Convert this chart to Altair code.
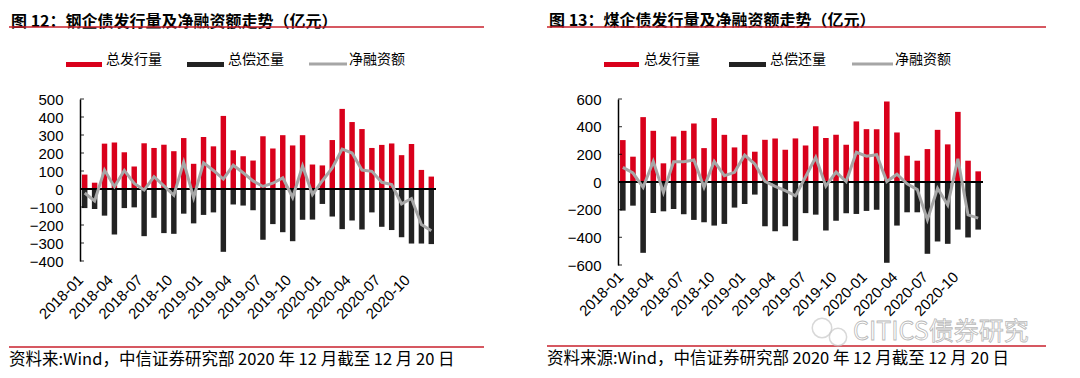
import altair as alt
import pandas as pd

months = [f"{y}-{m:02d}" for y in (2018, 2019, 2020) for m in range(1, 13)]
series_names = ["总发行量", "总偿还量", "净融资额"]

steel_issue = [80, 35, 252, 259, 204, 125, 254, 228, 246, 210, 283, 140,
               289, 237, 406, 215, 182, 158, 293, 225, 299, 242, 299, 136,
               131, 272, 445, 372, 333, 228, 245, 253, 188, 250, 106, 69]
steel_repay = [-106, -111, -148, -253, -106, -102, -262, -160, -245, -249, -137, -191,
               -144, -130, -349, -86, -92, -118, -282, -195, -240, -290, -171, -170,
               -83, -153, -223, -175, -225, -130, -210, -228, -268, -303, -303, -306]
steel_net = [-22, -66, 105, 13, 103, 31, -6, 68, 17, -35, 149, -48,
             145, 103, 55, 132, 90, 45, 14, 32, 62, -47, 128, -31,
             46, 117, 222, 200, 105, 98, 37, 25, -83, -53, -197, -232]

coal_issue = [303, 183, 469, 370, 135, 329, 370, 423, 245, 462, 341, 250,
              341, 219, 305, 315, 233, 315, 264, 403, 318, 341, 269, 438,
              382, 382, 582, 358, 190, 154, 238, 377, 272, 507, 154, 77]
coal_repay = [-207, -171, -512, -224, -212, -195, -233, -274, -291, -315, -303, -185,
              -159, -91, -320, -356, -320, -425, -225, -236, -351, -281, -226, -231,
              -209, -200, -584, -315, -219, -219, -519, -430, -447, -344, -401, -344]
coal_net = [106, 65, -38, 149, -75, 147, 147, 159, -38, 149, 46, 70,
            195, 130, 5, -31, -63, -100, 38, 179, -30, 72, 3, 215,
            186, 197, 3, 56, -13, -55, -272, -45, -166, 168, -238, -261]

RED = "#d9001b"
BLACK = "#222222"
GRAY = "#a6a6a6"
LINE_RED = "#c8202c"
CJK = "Noto Sans CJK SC"
NUM = "Liberation Sans"

one = pd.DataFrame({"k": [0]})


def deco_text(txt, x, y, size, weight="normal", color="black", font=CJK):
    return alt.Chart(one).mark_text(
        text=txt, align="left", baseline="middle", font=font,
        fontSize=size, fontWeight=weight, color=color
    ).encode(x=alt.value(x), y=alt.value(y))


def deco_rule(x1, x2, y, color, width):
    return alt.Chart(one).mark_rule(color=color, strokeWidth=width).encode(
        x=alt.value(x1), x2=alt.value(x2), y=alt.value(y))


def deco_rect(x1, x2, y1, y2, color):
    return alt.Chart(one).mark_rect(color=color).encode(
        x=alt.value(x1), x2=alt.value(x2), y=alt.value(y1), y2=alt.value(y2))


def panel(issue, repay, net, title, source, ydomain, yticks, W, H, lay):
    df = pd.DataFrame({"month": months, "issue": issue, "repay": repay, "net": net})
    xenc = alt.X(
        "month:O", sort=months,
        scale=alt.Scale(paddingInner=0.45, paddingOuter=0.2),
        axis=alt.Axis(values=months[::3], title=None, labelAngle=-45,
                      labelAlign="right", labelBaseline="middle",
                      domain=False, ticks=False, tickSize=0,
                      labelPadding=lay["xpad"], labelOffset=lay["xoff"],
                      labelFont=NUM, labelFontSize=15, labelColor="black",
                      labelOverlap=False, labelFlush=False))
    yscale = alt.Scale(domain=ydomain, nice=False, zero=False)
    yaxis = alt.Axis(values=yticks, title=None, grid=False, domainColor="black",
                     domainWidth=1.5, ticks=False, tickSize=0, labelPadding=lay["ypad"],
                     labelFont=NUM, labelFontSize=15, labelColor="black",
                     labelOverlap=False, labelFlush=False)
    base = alt.Chart(df)
    b1 = base.mark_bar(color=RED).encode(
        x=xenc, y=alt.Y("issue:Q", scale=yscale, axis=yaxis))
    b2 = base.mark_bar(color=BLACK).encode(
        x=xenc, y=alt.Y("repay:Q", scale=yscale, axis=yaxis))
    zero = alt.Chart(one).mark_rule(color="black", strokeWidth=2).encode(
        y=alt.YDatum(0, scale=yscale, axis=yaxis))
    ln = base.mark_line(color=GRAY, strokeWidth=3).encode(
        x=xenc, y=alt.Y("net:Q", scale=yscale, axis=yaxis))
    tk = alt.Chart(pd.DataFrame({"v": yticks})).mark_tick(
        color="black", thickness=1.2, size=4).encode(
        y=alt.Y("v:Q", scale=yscale, axis=yaxis), x=alt.value(2))

    layers = [b1, b2, zero, ln, tk]
    layers.append(deco_text(title, -69, lay["title_y"], 16, "bold"))
    layers.append(deco_rule(-71, lay["rule_x2"], -72, LINE_RED, 1.5))
    # legend
    layers.append(deco_rect(-14, lay["sw1"], -37, -32, RED))
    layers.append(deco_text(series_names[0], 26, -39, 14))
    layers.append(deco_rect(lay["sw2"][0], lay["sw2"][1], -37, -32, BLACK))
    layers.append(deco_text(series_names[1], lay["sw2"][1] + 4, -39, 14))
    layers.append(deco_rule(lay["sw3"][0], lay["sw3"][1], -35, GRAY, 3))
    layers.append(deco_text(series_names[2], lay["sw3"][1] + 2, -39, 14))
    # bottom
    layers.append(deco_rule(-71, lay["rule_x2"], lay["bottom_y"], LINE_RED, 1.5))
    layers.append(deco_text(source, -71, lay["bottom_y"] + 13, 16.5))
    if lay.get("wm"):
        layers.append(alt.Chart(one).mark_point(
            shape="circle", filled=False, stroke="#c8c8c8", strokeWidth=1.5, size=380
        ).encode(x=alt.value(204), y=alt.value(229)))
        layers.append(alt.Chart(one).mark_point(
            shape="circle", filled=False, stroke="#c8c8c8", strokeWidth=1.5, size=300
        ).encode(x=alt.value(220), y=alt.value(238)))
        layers.append(alt.Chart(one).mark_text(
            text="CITICS债券研究", align="left", baseline="middle", font=CJK,
            fontSize=25, fill="#ffffff", stroke="#b8b8b8", strokeWidth=0.8
        ).encode(x=alt.value(235), y=alt.value(233)))
    return alt.layer(*layers).properties(width=W, height=H)


left = panel(steel_issue, steel_repay, steel_net,
             "图 12：钢企债发行量及净融资额走势（亿元）",
             "资料来:Wind，中信证券研究部  2020 年 12 月截至 12 月 20 日",
             [-400, 500], list(range(-400, 501, 100)), 356, 162,
             {"title_y": -77, "rule_x2": 404, "sw1": 22, "sw2": (107, 144),
              "sw3": (229, 267), "bottom_y": 248, "xpad": 16, "xoff": -4,
              "ypad": 17})
right = panel(coal_issue, coal_repay, coal_net,
              "图 13：煤企债发行量及净融资额走势（亿元）",
              "资料来源:Wind，中信证券研究部  2020 年 12 月截至 12 月 20 日",
              [-600, 600], list(range(-600, 601, 200)), 365, 166,
              {"title_y": -78, "rule_x2": 428, "sw1": 21, "sw2": (111, 148),
               "sw3": (234, 275), "bottom_y": 247, "xpad": 9, "xoff": -2,
               "ypad": 17, "wm": True})

chart = alt.hconcat(left, right, spacing=61).configure_view(stroke=None).properties(
    padding={"top": 5, "left": 0, "right": 0, "bottom": 0})
chart.save("out.html", embed_options={"renderer": "svg", "actions": False})
